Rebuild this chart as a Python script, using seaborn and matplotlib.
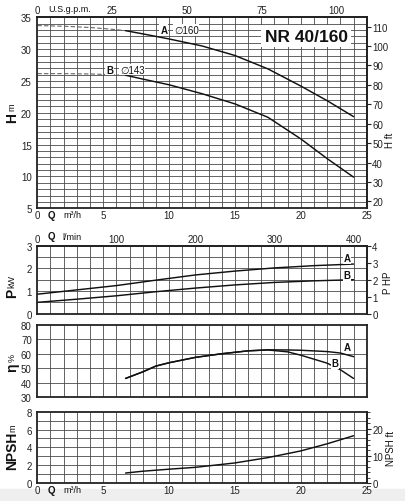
import numpy as np
import pandas as pd
import seaborn as sns
import matplotlib.pyplot as plt
from matplotlib.patches import Rectangle

# head curves (Q m3/h -> H m)
Q_Head_Dash = [0, 2, 4, 5.5, 6.7]
H_A_Dash = [33.7, 33.6, 33.4, 33.15, 32.9]
H_B_Dash = [26.15, 26.15, 26.1, 26.0, 25.9]
Q_Head = [6.7, 8, 10, 12.5, 15, 17.5, 20, 22, 24]
H_A = [32.9, 32.4, 31.6, 30.5, 29.0, 26.9, 24.2, 21.9, 19.4]
H_B = [25.9, 25.3, 24.4, 23.0, 21.4, 19.3, 15.9, 12.8, 9.9]

# power (kW)
Q_Power = [0, 3, 6, 9, 12, 15, 18, 21, 24]
P_A = [0.86, 1.05, 1.24, 1.48, 1.71, 1.88, 2.02, 2.12, 2.19]
P_B = [0.50, 0.64, 0.79, 0.97, 1.13, 1.27, 1.38, 1.45, 1.50]

# efficiency (%)
Q_Eff = [6.7, 8, 9, 10, 12, 14, 16, 17.5, 19, 20, 22, 23, 24]
Eff_A = [43, 47.5, 51.5, 53.8, 57.5, 60, 62, 62.7, 62.6, 62.4, 61.5, 60.5, 58]
Eff_B = [43, 47.5, 51.5, 53.8, 57.5, 60, 62, 62.6, 61.3, 59, 53.5, 49, 43]

# NPSH (m)
Q_Npsh = [6.7, 8, 10, 12, 15, 17.5, 20, 22, 24]
Npsh = [1.12, 1.32, 1.55, 1.76, 2.25, 2.85, 3.6, 4.4, 5.3]

Q_Ticks = [0, 5, 10, 15, 20, 25]
Gpm_Ticks = [0, 25, 50, 75, 100]
Lmin_Ticks = [0, 100, 200, 300, 400]

sns.set_style("white")
plt.rcParams['font.family'] = ['Liberation Sans', 'DejaVu Sans']
plt.rcParams['axes.linewidth'] = 1.3

W, H = 405, 502
fig = plt.figure(figsize=(4.05, 5.02), dpi=100)
fig.patches.append(Rectangle((0, 0), 1, 12 / H, transform=fig.transFigure,
                             color='#efefef', zorder=-5))

def Make_Axes(top, bottom):
    return fig.add_axes([37.3 / W, 1 - bottom / H, 329.4 / W, (bottom - top) / H])

Grid_Color = '#4a4a4a'

def Style(ax, ymin, ymax, ystep, ylabels):
    ax.set_xlim(0, 25)
    ax.set_ylim(ymin, ymax)
    for q in range(1, 25):
        ax.axvline(q, color=Grid_Color, lw=0.6, zorder=0)
    for v in np.arange(ymin + ystep, ymax - ystep / 2, ystep):
        ax.axhline(v, color=Grid_Color, lw=0.6, zorder=0)
    ax.set_yticks(ylabels)
    ax.set_xticks(Q_Ticks)
    ax.tick_params(axis='y', labelsize=7, length=2, pad=2, colors='#222')
    ax.tick_params(axis='x', labelsize=7, length=0, pad=1.5, colors='#222')
    for s in ax.spines.values():
        s.set_color('#222')
    ax.set_xlabel('')
    ax.set_ylabel('')

def Curve(ax, x, y, dashed=False):
    if dashed:
        sns.lineplot(x=x, y=y, ax=ax, color='#666', lw=0.8, linestyle=(0, (4, 2)))
    else:
        sns.lineplot(x=x, y=y, ax=ax, color='#111', lw=1.05)

def Label(ax, x, y, s, bold=True, size=7):
    ax.text(x, y, s, fontsize=size, fontweight='bold' if bold else 'normal',
            ha='center', va='center', color='#111',
            bbox=dict(facecolor='white', edgecolor='none', pad=0.6))

def Q_Text(ax, y_pix, ab):
    # "Q  m3/h" inside the tick label row
    ax.text(51 / W, y_pix, 'Q', transform=fig.transFigure, fontsize=7,
            fontweight='bold', ha='center', va='center', color='#111')
    ax.text(72 / W, y_pix, ab, transform=fig.transFigure, fontsize=6.5,
            ha='center', va='center', color='#111')

# ---------- head ----------
ax1 = Make_Axes(18.3, 209.3)
Style(ax1, 5, 35, 1, [5, 10, 15, 20, 25, 30, 35])
Curve(ax1, Q_Head_Dash, H_A_Dash, True)
Curve(ax1, Q_Head_Dash, H_B_Dash, True)
Curve(ax1, Q_Head, H_A)
Curve(ax1, Q_Head, H_B)
Label(ax1, 9.6, 33.0, 'A')
Label(ax1, 11.3, 33.0, '∅160', bold=False)
Label(ax1, 5.5, 26.8, 'B')
Label(ax1, 7.2, 26.8, '∅143', bold=False)
ax1.text(20.4, 32.0, 'NR 40/160', fontsize=12.5, fontweight='bold', ha='center',
         va='center', color='#111',
         bbox=dict(facecolor='white', edgecolor='none', pad=2.5))
ft1 = ax1.secondary_yaxis('right', functions=(lambda m: m * 3.2808, lambda f: f / 3.2808))
ft1.set_yticks(range(20, 111, 10))
ft1.tick_params(labelsize=7, length=3, pad=1, colors='#222')
gpm = ax1.secondary_xaxis('top', functions=(lambda q: q * 4.4029, lambda g: g / 4.4029))
gpm.set_xticks(Gpm_Ticks)
gpm.tick_params(labelsize=7, length=0, pad=1.5, colors='#222')
fig.text(70 / W, 1 - 10 / H, 'U.S.g.p.m.', fontsize=6.5, ha='center', va='center', color='#111')
Q_Text(ax1, 1 - 216 / H, 'm³/h')

# ---------- power ----------
ax2 = Make_Axes(246.7, 314.7)
Style(ax2, 0, 3, 0.5, [0, 1, 2, 3])
ax2.set_xticklabels([])
Curve(ax2, Q_Power, P_A)
Curve(ax2, Q_Power, P_B)
Label(ax2, 23.5, 2.45, 'A')
Label(ax2, 23.5, 1.72, 'B')
hp = ax2.secondary_yaxis('right', functions=(lambda k: k * 1.341, lambda h: h / 1.341))
hp.set_yticks([0, 1, 2, 3, 4])
hp.tick_params(labelsize=7, length=3, pad=1, colors='#222')
lmin = ax2.secondary_xaxis('top', functions=(lambda q: q * 1000 / 60, lambda l: l * 60 / 1000))
lmin.set_xticks(Lmin_Ticks)
lmin.tick_params(labelsize=7, length=0, pad=1.5, colors='#222')
Q_Text(ax2, 1 - 237 / H, 'l/min')

# ---------- efficiency ----------
ax3 = Make_Axes(325.7, 398.3)
Style(ax3, 30, 80, 10, [30, 40, 50, 60, 70, 80])
ax3.set_xticklabels([])
Curve(ax3, Q_Eff, Eff_A)
Curve(ax3, Q_Eff, Eff_B)
Label(ax3, 23.5, 64.5, 'A')
Label(ax3, 22.6, 53.8, 'B')

# ---------- NPSH ----------
ax4 = Make_Axes(412.7, 484)
Style(ax4, 0, 8, 1, [0, 2, 4, 6, 8])
Curve(ax4, Q_Npsh, Npsh)
nft = ax4.secondary_yaxis('right', functions=(lambda m: m * 3.2808, lambda f: f / 3.2808))
nft.set_yticks([0, 10, 20])
nft.set_yticks(np.arange(0, 27, 2), minor=True)
nft.tick_params(labelsize=7, length=3, pad=1, colors='#222')
nft.tick_params(which='minor', length=2, colors='#222')
Q_Text(ax4, 1 - 491 / H, 'm³/h')

# ---------- axis titles ----------
def Side_Title(x, y_big, big, y_small, small):
    fig.text(x / W, 1 - y_big / H, big, rotation=90, fontsize=10, fontweight='bold',
             ha='center', va='center', color='#111')
    fig.text(x / W, 1 - y_small / H, small, rotation=90, fontsize=6.5,
             ha='center', va='center', color='#111')

Side_Title(12, 118, 'H', 107, 'm')
Side_Title(12, 293, 'P', 282, 'kW')
Side_Title(12, 368, 'η', 358, '%')
Side_Title(12.5, 451, 'NPSH', 428, 'm')

fig.text(390 / W, 1 - 140 / H, 'H ft', rotation=90, fontsize=7, ha='center', va='center', color='#111')
fig.text(388 / W, 1 - 283 / H, 'P HP', rotation=90, fontsize=7, ha='center', va='center', color='#111')
fig.text(391 / W, 1 - 449 / H, 'NPSH ft', rotation=90, fontsize=7, ha='center', va='center', color='#111')

fig.savefig('out.png', dpi=100)
